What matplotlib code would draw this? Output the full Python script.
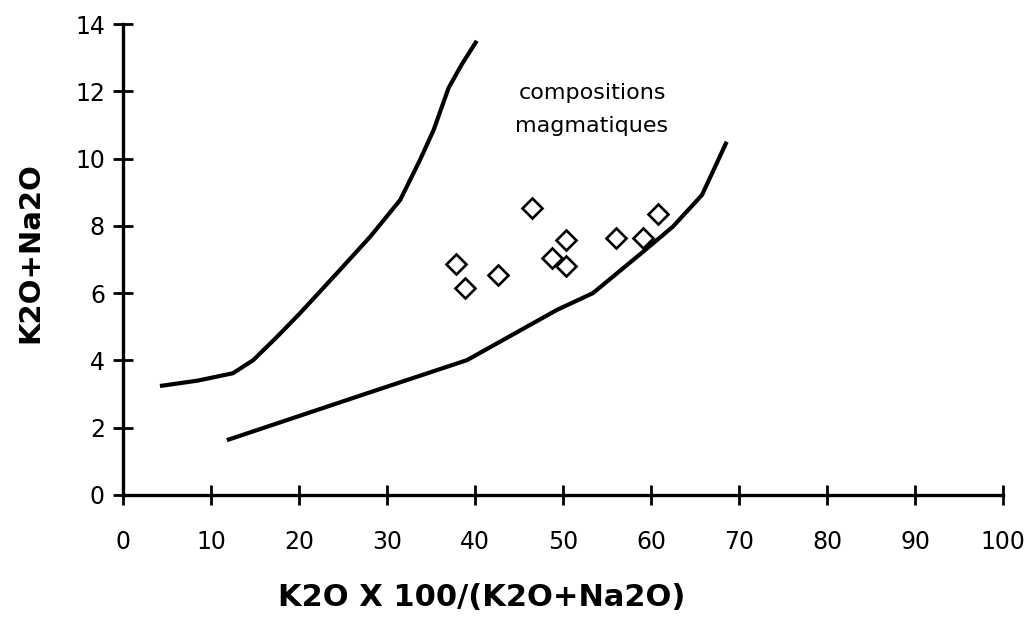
import matplotlib
matplotlib.use("Agg")
import matplotlib.pyplot as plt

# Upper boundary curve
upper_x = [4.2, 8.5, 12.5, 14.8, 17.5, 20.1, 24.3, 28.1, 31.5, 33.75, 35.3, 37.0, 38.5, 40.2]
upper_y = [3.24, 3.4, 3.62, 4.01, 4.7, 5.4, 6.59, 7.68, 8.77, 9.96, 10.85, 12.1, 12.8, 13.5]

# Lower boundary curve
lower_x = [11.8, 27.7, 39.1, 49.3, 53.4, 59.1, 62.5, 65.8, 68.6]
lower_y = [1.63, 3.02, 4.01, 5.5, 6.0, 7.23, 7.98, 8.92, 10.5]

# Samples
sample_x = [46.5, 37.8, 38.9, 42.6, 48.7, 50.3, 50.3, 56.0, 59.1, 60.8]
sample_y = [8.54, 6.87, 6.14, 6.54, 7.04, 7.58, 6.82, 7.63, 7.63, 8.34]

x_ticks = [0, 10, 20, 30, 40, 50, 60, 70, 80, 90, 100]
y_ticks = [0, 2, 4, 6, 8, 10, 12, 14]

W, H = 1036, 624
fig = plt.figure(figsize=(W / 100, H / 100), dpi=100)
ax = fig.add_axes([123 / W, 1 - 495 / H, (1003 - 123) / W, (495 - 24) / H])

ax.plot(upper_x, upper_y, color="black", lw=3, solid_capstyle="butt", solid_joinstyle="round")
ax.plot(lower_x, lower_y, color="black", lw=3, solid_capstyle="butt", solid_joinstyle="round")
ax.plot(sample_x, sample_y, linestyle="none", marker="D", ms=10,
        markerfacecolor="white", markeredgecolor="black", markeredgewidth=1.9)

ax.text(53.3, 11.45, "compositions\nmagmatiques", ha="center", va="center",
        fontsize=16, linespacing=1.8)

ax.set_xlim(0, 100)
ax.set_ylim(0, 14)
ax.set_xticks(x_ticks)
ax.set_yticks(y_ticks)
ax.set_xticklabels([str(v) for v in x_ticks])
ax.set_yticklabels([str(v) for v in y_ticks])

for s in ["top", "right"]:
    ax.spines[s].set_visible(False)
for s in ["left", "bottom"]:
    ax.spines[s].set_linewidth(2.4)
ax.tick_params(axis="both", direction="inout", length=14, width=2.0, labelsize=17)
ax.tick_params(axis="x", pad=18)
ax.tick_params(axis="y", pad=6)

fig.text(30 / W, 1 - 253 / H, "K2O+Na2O", rotation=90, ha="center", va="center",
         fontsize=21, fontweight="bold")
fig.text(482 / W, 1 - 598 / H, "K2O X 100/(K2O+Na2O)", ha="center", va="center",
         fontsize=22, fontweight="bold")

fig.savefig("out.png", dpi=100)
